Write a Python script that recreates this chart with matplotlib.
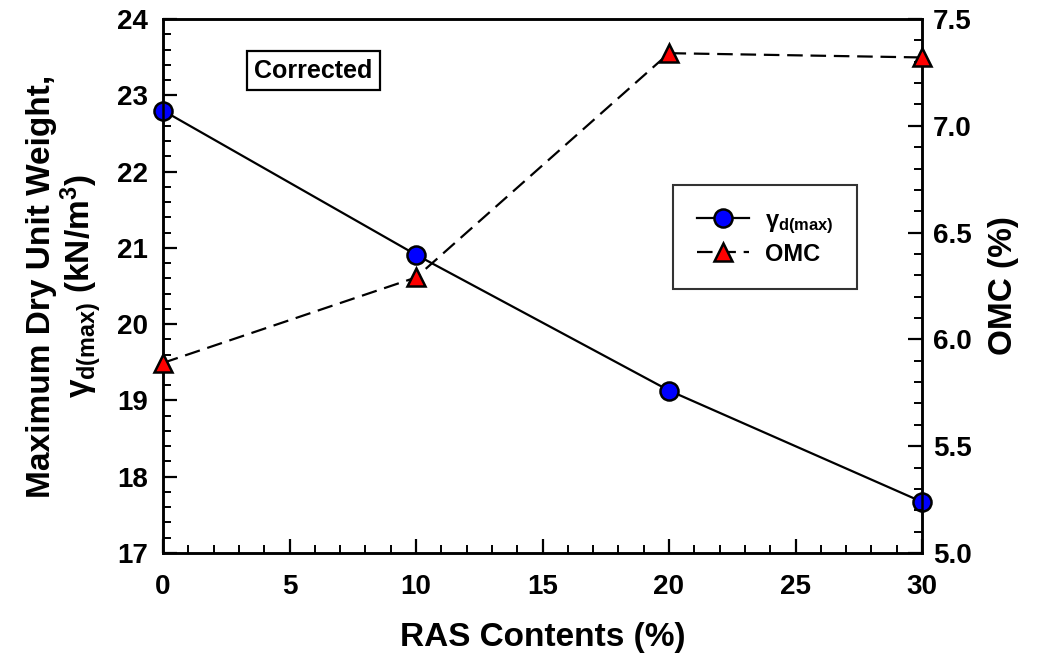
import matplotlib
matplotlib.use("Agg")
import matplotlib.pyplot as plt
from matplotlib.ticker import MultipleLocator, FormatStrFormatter

plt.rcParams["font.family"] = ["Liberation Sans", "DejaVu Sans"]
plt.rcParams["font.weight"] = "bold"
plt.rcParams["mathtext.fontset"] = "custom"
plt.rcParams["mathtext.rm"] = "Liberation Sans:bold"
plt.rcParams["mathtext.bf"] = "Liberation Sans:bold"
plt.rcParams["mathtext.it"] = "Liberation Sans"

# data
ras = [0, 10, 20, 30]
gamma_dmax = [22.80, 20.91, 19.13, 17.67]
omc = [5.89, 6.29, 7.34, 7.32]

fig = plt.figure(figsize=(10.38, 6.6), dpi=100)
ax = fig.add_axes([163 / 1038, 1 - 553 / 660, 759 / 1038, 534 / 660])
ax2 = ax.twinx()

l1, = ax.plot(ras, gamma_dmax, "-", color="black", lw=1.6, marker="o",
              markersize=13, markerfacecolor="#0000ff", markeredgecolor="black",
              markeredgewidth=1.8, clip_on=False, zorder=5,
              label=r"$\gamma_{\mathbf{d(max)}}$")
l2, = ax2.plot(ras, omc, "--", color="black", lw=1.6, dashes=(7, 3.5), marker="^",
               markersize=13, markerfacecolor="#ff0000", markeredgecolor="black",
               markeredgewidth=1.8, clip_on=False, zorder=5, label="OMC")

ax.set_xlim(0, 30)
ax.set_ylim(17, 24)
ax2.set_ylim(5.0, 7.5)

ax.xaxis.set_major_locator(MultipleLocator(5))
ax.xaxis.set_minor_locator(MultipleLocator(1))
ax.yaxis.set_major_locator(MultipleLocator(1))
ax.yaxis.set_minor_locator(MultipleLocator(0.2))
ax2.yaxis.set_major_locator(MultipleLocator(0.5))
ax2.yaxis.set_minor_locator(MultipleLocator(0.1))
ax2.yaxis.set_major_formatter(FormatStrFormatter("%.1f"))

for a in (ax, ax2):
    a.tick_params(which="major", direction="in", length=10, width=1.6,
                  labelsize=20)
    a.tick_params(which="minor", direction="in", length=6, width=1.4)
    for s in a.spines.values():
        s.set_linewidth(1.8)
ax.tick_params(axis="y", which="both", right=False, pad=11)
ax.tick_params(axis="x", which="both", top=False, pad=15)
ax2.tick_params(axis="y", pad=8)

ax.set_xlabel("RAS Contents (%)", fontsize=24, fontweight="bold")
ax.xaxis.set_label_coords(0.5, -0.13)
ax.set_ylabel("Maximum Dry Unit Weight,\n" + r"$\gamma_{\mathbf{d(max)}}$ (kN/m$^{\mathbf{3}}$)",
              fontsize=24, fontweight="bold", linespacing=1.05)
ax.yaxis.set_label_coords(-0.078, 0.5)
ax2.set_ylabel("OMC (%)", fontsize=24, fontweight="bold")
ax2.yaxis.set_label_coords(1.087, 0.5)

ax.text(0.198, 0.903, "Corrected", transform=ax.transAxes, fontsize=18,
        fontweight="bold", ha="center", va="center",
        bbox=dict(boxstyle="square,pad=0.3", facecolor="white",
                  edgecolor="black", linewidth=1.6))

leg = ax2.legend(handles=[l1, l2], loc="upper left",
                 bbox_to_anchor=(673 / 1038, 1 - 185 / 660),
                 bbox_transform=fig.transFigure, fontsize=17, frameon=True,
                 fancybox=False, edgecolor="black", borderpad=1.0,
                 handlelength=2.2, handletextpad=0.7, labelspacing=0.3,
                 borderaxespad=0)
leg.get_frame().set_linewidth(1.5)

fig.savefig("out.png", dpi=100)
